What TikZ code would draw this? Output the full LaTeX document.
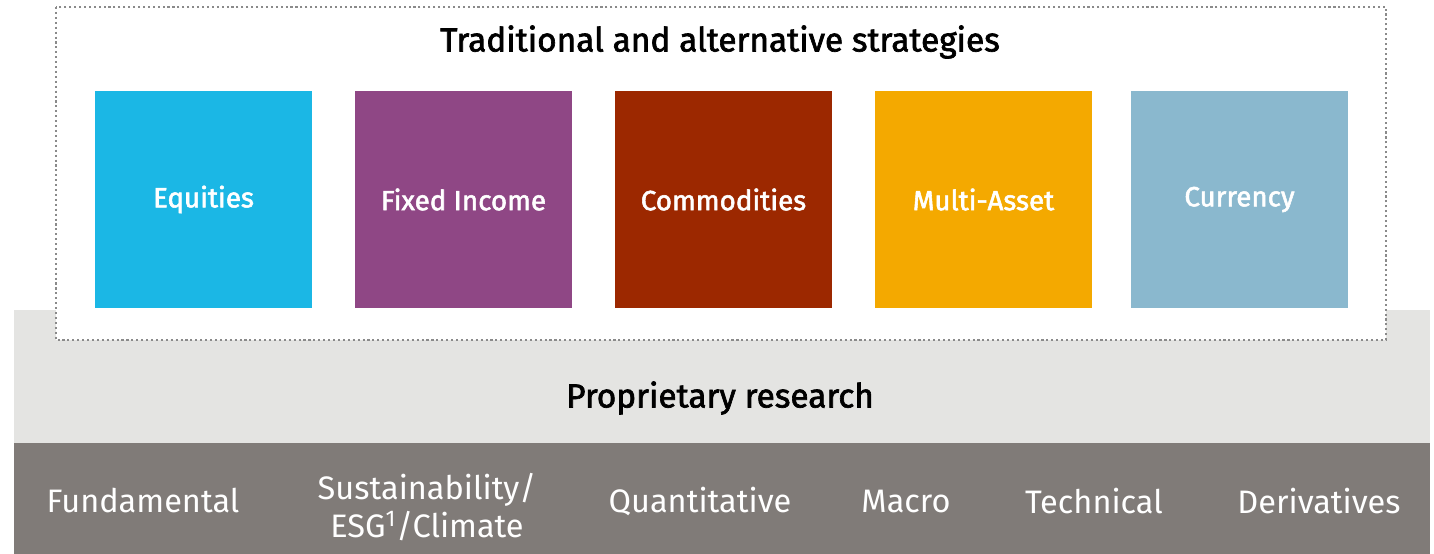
\documentclass[tikz,border=0pt]{standalone}
\usepackage{fontspec}
\setmainfont{Fira Sans}
\newfontfamily\medfont{Fira Sans}[FakeBold=2]
\usepackage{xcolor}
\usepackage{tikz}
\usetikzlibrary{positioning,calc}
\definecolor{cEq}{HTML}{1BB7E5}
\definecolor{cFi}{HTML}{8F4785}
\definecolor{cCo}{HTML}{9C2800}
\definecolor{cMa}{HTML}{F4A900}
\definecolor{cCu}{HTML}{8AB8CE}
\definecolor{lgray}{HTML}{E4E4E2}
\definecolor{dgray}{HTML}{807B78}
\definecolor{dotgray}{HTML}{8A8A8A}
\tikzstyle{asset}= [rectangle, minimum size=4.34cm, inner sep=0pt, text=white, font=\fontsize{15.8}{18}\medfont]
\tikzstyle{research}= [text=white, align=center, font=\fontsize{18.5}{22}\selectfont]
\tikzstyle{heading}= [font=\fontsize{19}{22}\medfont]

\begin{document}
\begin{tikzpicture}[x=0.02cm, y=-0.02cm]
				\useasboundingbox (0,0) rectangle (1434,554);
				\fill[lgray] (14,310) rectangle (1430,443);
				\fill[dgray] (14,443) rectangle (1430,554);
				\draw[dotgray, fill=white, line width=1.2pt, dash pattern=on 1.2pt off 1.6pt] (56,7) rectangle (1386,340);
				
				\node[heading] (trad) at (720,42) {Traditional and alternative strategies};
				\node[asset, fill=cEq] (eq) at (203.5,199.5) {Equities};
				\node[asset, fill=cFi] (fi) at (463.5,199.5) {Fixed Income};
				\node[asset, fill=cCo] (co) at (723.5,199.5) {Commodities};
				\node[asset, fill=cMa] (ma) at (983.5,199.5) {Multi-Asset};
				\node[asset, fill=cCu] (cu) at (1239.5,199.5) {Currency};
				
				\node[heading] (prop) at (720,398) {Proprietary research};
				\node[research] (fund) at (143,501) {Fundamental};
				\node[research] (sust) at (427,507) {Sustainability/\\ESG\textsuperscript{1}/Climate};
				\node[research] (quant) at (700,501) {Quantitative};
				\node[research] (macro) at (906,501) {Macro};
				\node[research] (tech) at (1094,501) {Technical};
				\node[research] (deriv) at (1319,501) {Derivatives};
			\end{tikzpicture}
\end{document}
